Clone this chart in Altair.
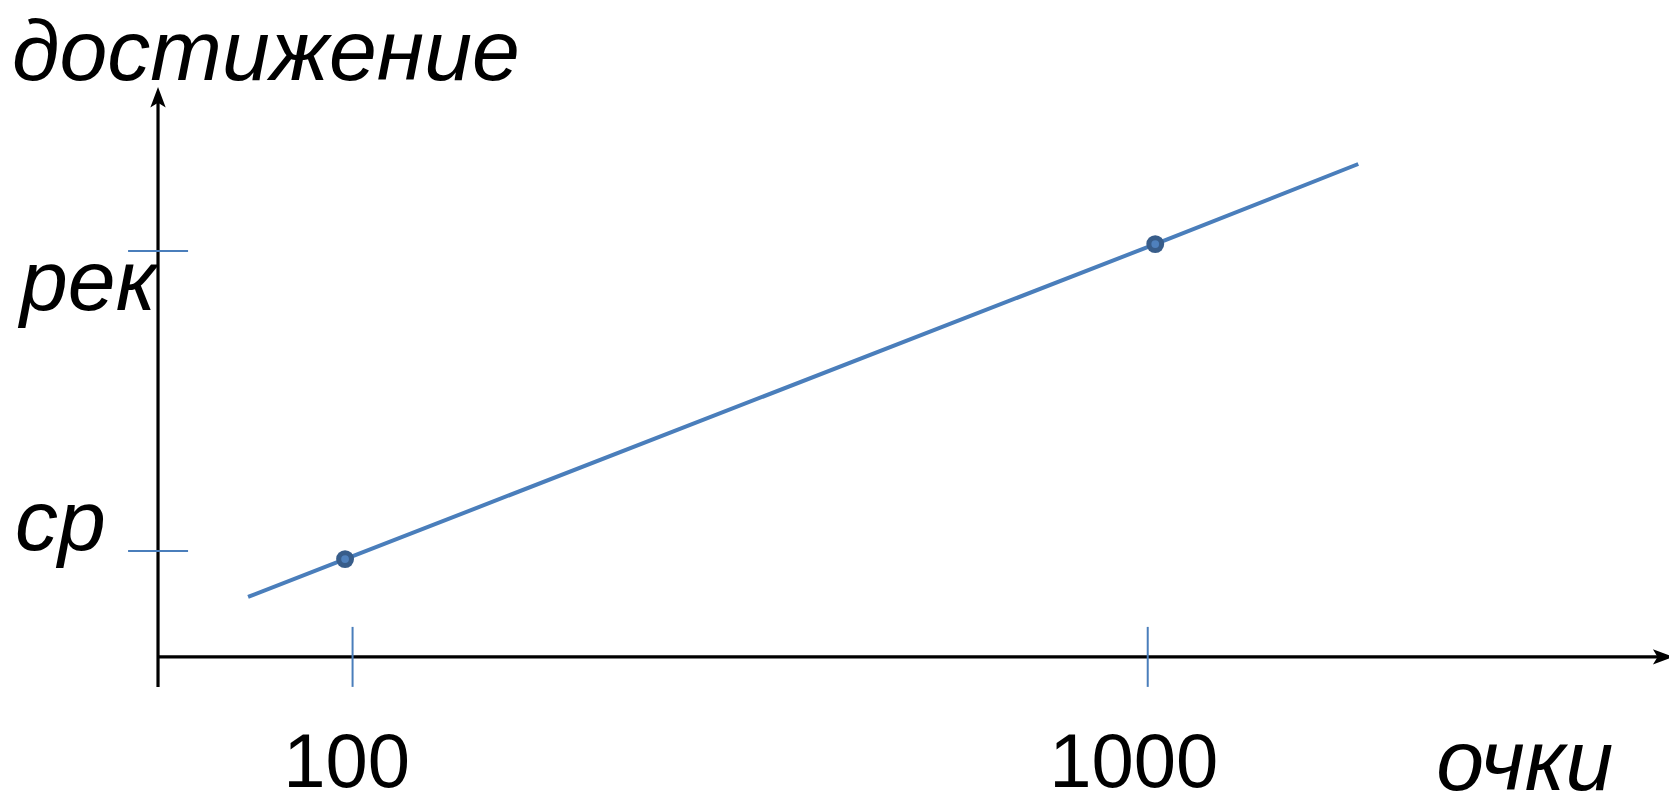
import altair as alt
import pandas as pd

# ---- data (schematic units: x in "очки", y: ср=1, рек=2)
x_tick_values = [100, 1000]
x_tick_labels = ["100", "1000"]
y_tick_values = [1, 2]
y_tick_labels = ["ср", "рек"]

line_x = [-18.3, 91.5, 1008.5, 1238.3]
line_y = [0.847, 0.973, 2.023, 2.29]

point_x = [91.5, 1008.5]
point_y = [0.973, 2.023]

x_title = "очки"
y_title = "достижение"

# axis geometry (data units)
axis_origin_x = -120.2
axis_origin_y = 0.647
x_axis_end = 1595
y_axis_bottom = 0.547
y_axis_end = 2.547

X_DOMAIN = [-290, 1590]
Y_DOMAIN = [0.19, 2.81]

BLUE = "#4a7ebb"
DARK_BLUE = "#385d8a"
LIGHT_BLUE = "#4f81bd"

xs = alt.Scale(domain=X_DOMAIN, nice=False, zero=False)
ys = alt.Scale(domain=Y_DOMAIN, nice=False, zero=False)


def X(f="x"):
    return alt.X(f"{f}:Q", scale=xs, axis=None)


def Y(f="y"):
    return alt.Y(f"{f}:Q", scale=ys, axis=None)


# axes lines
axes_df = pd.DataFrame({
    "x": [axis_origin_x, axis_origin_x],
    "x2": [x_axis_end - 8, axis_origin_x],
    "y": [axis_origin_y, y_axis_bottom],
    "y2": [axis_origin_y, y_axis_end - 0.04],
})
axes = alt.Chart(axes_df).mark_rule(color="black", strokeWidth=3.2).encode(
    x=X(), x2="x2:Q", y=Y(), y2="y2:Q"
)

# arrow heads
arrow_x = alt.Chart(pd.DataFrame({"x": [x_axis_end], "y": [axis_origin_y]})).mark_point(
    shape="M0,0 L-2,-0.75 L-1.55,0 L-2,0.75 Z", filled=True, color="black",
    size=420, opacity=1, strokeWidth=0
).encode(x=X(), y=Y())
arrow_y = alt.Chart(pd.DataFrame({"x": [axis_origin_x], "y": [y_axis_end]})).mark_point(
    shape="M0,0 L-0.75,2 L0,1.55 L0.75,2 Z", filled=True, color="black",
    size=420, opacity=1, strokeWidth=0
).encode(x=X(), y=Y())

# tick marks
xt_df = pd.DataFrame({"x": x_tick_values, "y": [0.547] * 2, "y2": [0.747] * 2})
xticks = alt.Chart(xt_df).mark_rule(color=BLUE, strokeWidth=2).encode(
    x=X(), y=Y(), y2="y2:Q"
)
yt_df = pd.DataFrame({"y": y_tick_values, "x": [-154.1] * 2, "x2": [-86.2] * 2})
yticks = alt.Chart(yt_df).mark_rule(color=BLUE, strokeWidth=2).encode(
    x=X(), x2="x2:Q", y=Y()
)

# data line and points
line_df = pd.DataFrame({"x": line_x, "y": line_y, "o": range(len(line_x))})
line = alt.Chart(line_df).mark_line(color=BLUE, strokeWidth=4).encode(
    x=X(), y=Y(), order="o:Q"
)
pts_df = pd.DataFrame({"x": point_x, "y": point_y})
pts_outer = alt.Chart(pts_df).mark_circle(
    color=DARK_BLUE, size=320, opacity=1
).encode(x=X(), y=Y())
pts_inner = alt.Chart(pts_df).mark_circle(
    color=LIGHT_BLUE, size=60, opacity=1
).encode(x=X(), y=Y())

# tick labels
xl_df = pd.DataFrame({"x": x_tick_values, "label": x_tick_labels, "y": [0.213] * 2})
xlabels_a = alt.Chart(xl_df[xl_df.label == "100"]).mark_text(
    font="Liberation Sans", fontSize=76, align="center", baseline="alphabetic",
    color="black", dx=-6
).encode(x=X(), y=Y(), text="label:N")
xlabels_b = alt.Chart(xl_df[xl_df.label == "1000"]).mark_text(
    font="Liberation Sans", fontSize=76, align="center", baseline="alphabetic",
    color="black", dx=-14
).encode(x=X(), y=Y(), text="label:N")

yl_df = pd.DataFrame({"x": [-282, -276.4], "y": [1.003, 1.803], "label": y_tick_labels})
ylabels = alt.Chart(yl_df).mark_text(
    font="Liberation Sans", fontStyle="italic", fontSize=86, align="left",
    baseline="alphabetic", color="black"
).encode(x=X(), y=Y(), text="label:N")

titles_df = pd.DataFrame({"x": [-285.5, 1326.7], "y": [2.57, 0.203],
                          "label": [y_title, x_title]})
titles = alt.Chart(titles_df).mark_text(
    font="Liberation Sans", fontStyle="italic", fontSize=86, align="left",
    baseline="alphabetic", color="black"
).encode(x=X(), y=Y(), text="label:N")

chart = alt.layer(
    axes, arrow_x, arrow_y, xticks, yticks, line, pts_outer, pts_inner,
    xlabels_a, xlabels_b, ylabels, titles
).properties(
    width=1661, height=786, padding=0, autosize="none", background="white"
).configure_view(stroke=None)

chart.save("out.html", embed_options={"renderer": "svg", "actions": False})
